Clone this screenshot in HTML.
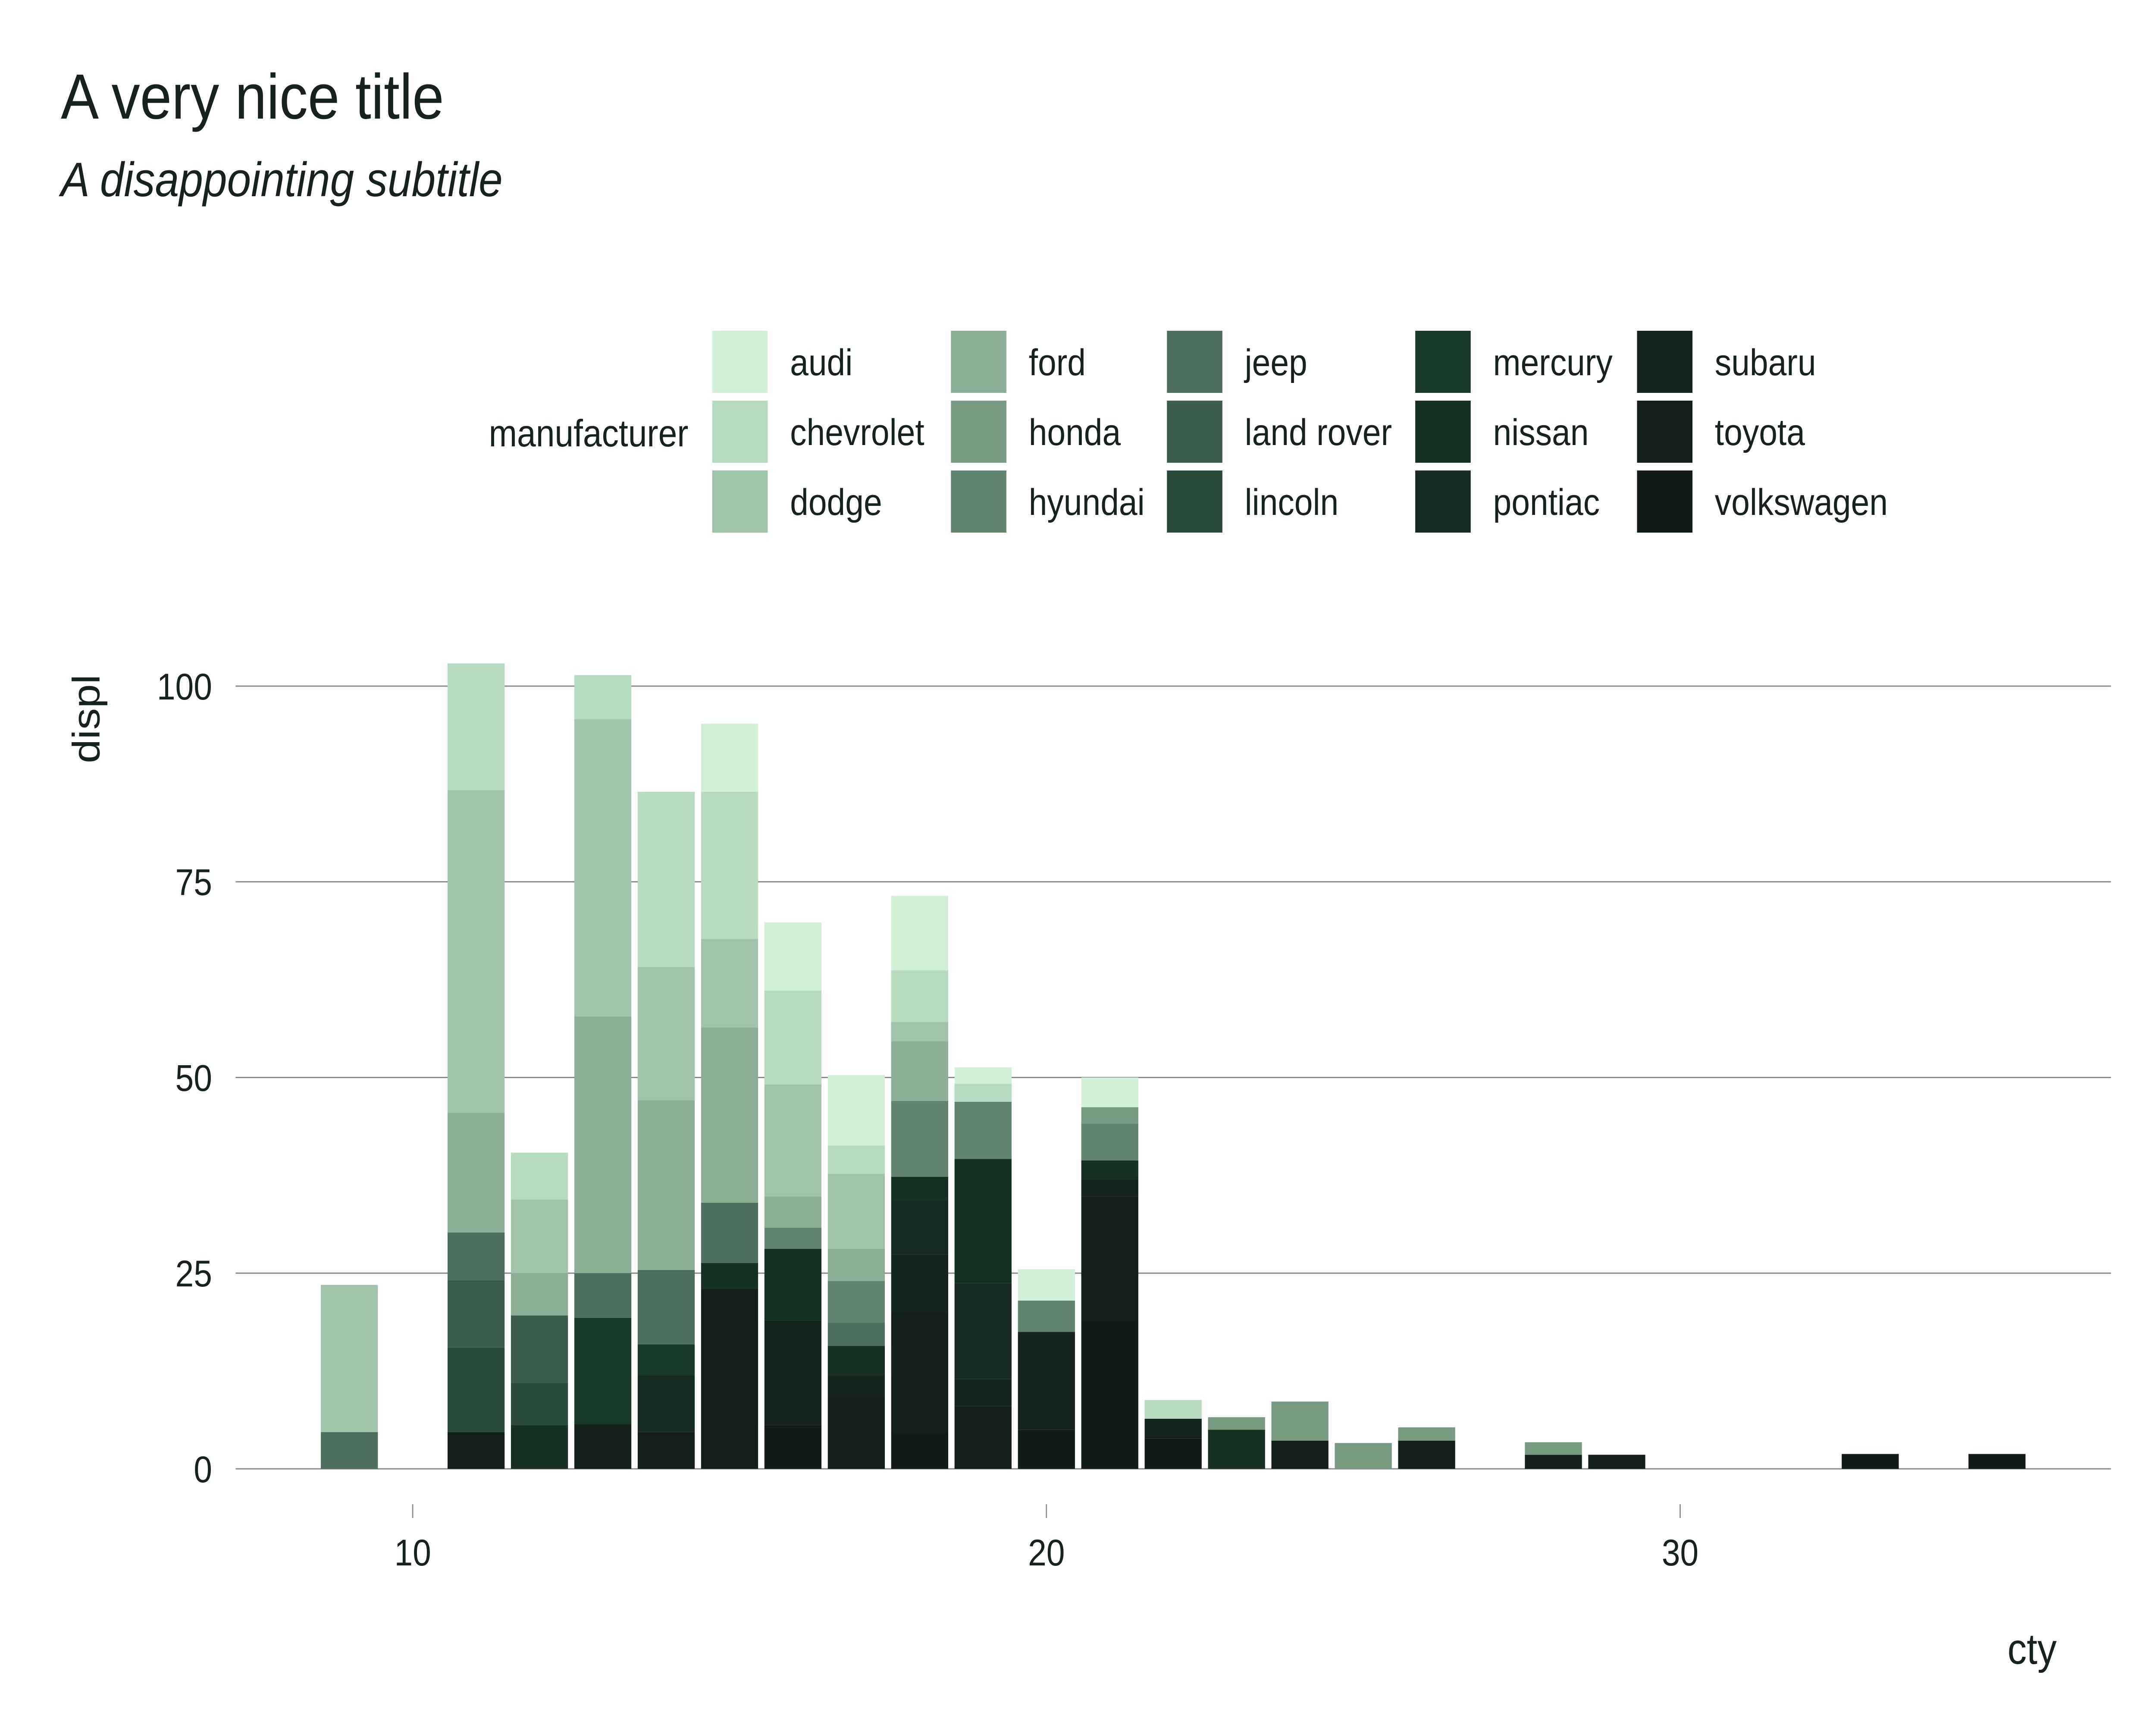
<!DOCTYPE html>
<html><head><meta charset="utf-8"><style>
html,body{margin:0;padding:0;background:#fff;overflow:hidden;width:100%;height:100%;}
svg{display:block;font-family:"Liberation Sans",sans-serif;width:100vw;height:100vh;}
</style></head><body>
<svg id="chart" viewBox="0 0 5600 4000" preserveAspectRatio="none" xmlns="http://www.w3.org/2000/svg">
<rect width="5600" height="4000" fill="#ffffff"/>
<text x="158" y="275" font-size="148" fill="#16221c">A very nice title</text>
<text x="158" y="455" font-size="112" font-style="italic" fill="#16221c">A disappointing subtitle</text>
<text x="1788" y="1035" font-size="88" text-anchor="end" fill="#16221c">manufacturer</text>
<g id="legend"></g>
<g id="grid"></g>
<g id="bars"></g>
<g id="axes"></g>
<text x="5342" y="3858" font-size="100" text-anchor="end" fill="#16221c">cty</text>
<text transform="translate(258,1667) rotate(-90)" font-size="100" text-anchor="middle" fill="#16221c">displ</text>
</svg>
<script>
const ctys = [9,11,12,13,14,15,16,17,18,19,20,21,22,23,24,25,26,28,29,33,35];
const manufacturers = ["audi","chevrolet","dodge","ford","honda","hyundai","jeep","land rover","lincoln","mercury","nissan","pontiac","subaru","toyota","volkswagen"];
const colors = ["#d1f0d6","#b7dbbe","#a1c3a9","#8bae94","#779a81","#62846f","#4e6f5d","#3b5c4b","#294a3a","#1a3a29","#163022","#152a20","#14251d","#132019","#121c16"];
const audi       = [0,0,0,0,0,8.7,8.7,9,9.5,2.1,4,3.8,0,0,0,0,0,0,0,0,0];
const chevrolet  = [0,16.2,6,5.6,22.4,18.8,12,3.6,6.6,2.3,0,0,2.4,0,0,0,0,0,0,0,0];
const dodge      = [18.8,41.2,9.4,38,17,11.3,14.3,9.6,2.5,0,0,0,0,0,0,0,0,0,0,0,0];
const ford       = [0,15.3,5.4,32.8,21.7,22.4,4,4.1,7.6,0,0,0,0,0,0,0,0,0,0,0,0];
const honda      = [0,0,0,0,0,0,0,0,0,0,0,2.1,0,1.6,5,3.3,1.7,1.6,0,0,0];
const hyundai    = [0,0,0,0,0,0,2.7,5.3,9.7,7.3,4,4.7,0,0,0,0,0,0,0,0,0];
const jeep       = [4.7,6.1,0,5.7,9.5,7.7,0,3,0,0,0,0,0,0,0,0,0,0,0,0,0];
const landrover  = [0,8.6,8.6,0,0,0,0,0,0,0,0,0,0,0,0,0,0,0,0,0,0];
const lincoln    = [0,10.8,5.4,0,0,0,0,0,0,0,0,0,0,0,0,0,0,0,0,0,0];
const mercury    = [0,0,0,13.6,4,0,0,0,0,0,0,0,0,0,0,0,0,0,0,0,0];
const nissan     = [0,0,5.6,0,0,3.3,9.1,3.8,3,15.9,0,2.4,0,5,0,0,0,0,0,0,0];
const pontiac    = [0,0,0,0,7.2,0,0,0,6.9,12.2,0,0,0,0,0,0,0,0,0,0,0];
const subaru     = [0,0,0,0,0,0,13.4,2.7,7.4,3.5,12.5,2.2,2.5,0,0,0,0,0,0,0,0];
const toyota     = [0,4.7,0,5.7,4.7,23,0,9.2,15.4,8,0,15.9,0,0,3.6,0,3.6,1.8,1.8,0,0];
const volkswagen = [0,0,0,0,0,0,5.6,0,4.6,0,5,18.9,3.9,0,0,0,0,0,0,1.9,1.9];
const series = [audi,chevrolet,dodge,ford,honda,hyundai,jeep,landrover,lincoln,mercury,nissan,pontiac,subaru,toyota,volkswagen];
const yTicks = [0,25,50,75,100];
const xTicks = [10,20,30];

const NS="http://www.w3.org/2000/svg";
function mk(tag,attrs,parent){const e=document.createElementNS(NS,tag);for(const k in attrs)e.setAttribute(k,attrs[k]);parent.appendChild(e);return e;}
const X0=612, X1=5483;
function xs(v){return 1072+(v-10)*164.6;}
function ys(v){return 3406-v*18.15;}
const grid=document.getElementById('grid'), bars=document.getElementById('bars'), axes=document.getElementById('axes'), legend=document.getElementById('legend');

yTicks.forEach(t=>{
  const l=mk('line',{x1:X0,x2:X1,y1:ys(t),y2:ys(t),stroke:'#8a8a8a','stroke-width':3},grid);
  
  
  const tx=mk('text',{x:551,y:ys(t)+31,'font-size':86,'text-anchor':'end',fill:'#16221c'},axes);
  tx.textContent=t;
  
  
});
xTicks.forEach(t=>{
  const l=mk('line',{x1:xs(t),x2:xs(t),y1:3488,y2:3520,stroke:'#8a8a8a','stroke-width':3},axes);
  
  
  const tx=mk('text',{x:xs(t),y:3630,'font-size':86,'text-anchor':'middle',fill:'#16221c'},axes);
  tx.textContent=t;
  
  
});

const BW=0.9*164.6;
ctys.forEach((c,i)=>{
  let base=0;
  for(let m=series.length-1;m>=0;m--){
    const v=series[m][i];
    if(!v) continue;
    const r=mk('rect',{x:xs(c)-BW/2,y:ys(base+v),width:BW,height:v*18.15,fill:colors[m]},bars);
    
    
    base+=v;
  }
});

const colX=[1850,2470,3031,3676,4252], rowY=[767,929,1091];
manufacturers.forEach((m,i)=>{
  const c=Math.floor(i/3), r=i%3;
  const k=mk('rect',{x:colX[c],y:rowY[r],width:144,height:144,fill:colors[i]},legend);
  
  
  const t=mk('text',{x:colX[c]+202,y:rowY[r]+103,'font-size':86,fill:'#16221c'},legend);
  t.textContent=m;
  
  
});
</script>
</body></html>
